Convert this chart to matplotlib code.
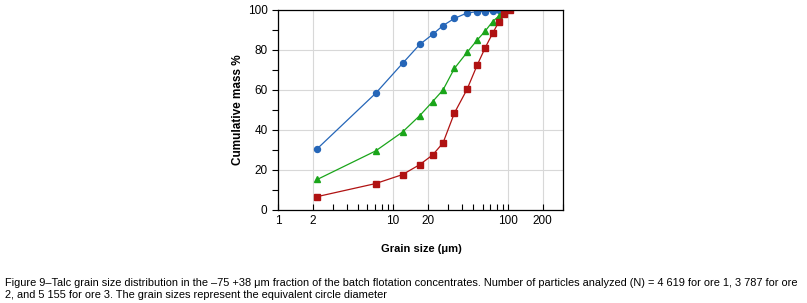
"""Talc grain size distribution, cumulative mass vs grain size."""

import matplotlib
matplotlib.use("Agg")
from matplotlib import pyplot as plt
from matplotlib.ticker import FixedLocator, NullFormatter, MultipleLocator

sizes_all = [2.2, 7.05, 12.1, 17.1, 22.1, 27.2, 34.2, 44, 54, 63.4, 73.4, 83.4, 93, 104]

ore1 = [30.7, 58.3, 73.3, 82.8, 87.8, 92.2, 95.8, 98.5, 99.2, 99.2, 99.3, 100]
ore2 = [15.3, 29.5, 39.0, 47.2, 54.2, 60.0, 70.8, 78.8, 85.0, 89.5, 94.2, 97.0, 100]
ore3 = [6.7, 13.2, 17.7, 22.7, 27.5, 33.5, 48.5, 60.3, 72.5, 81.2, 88.3, 94.2, 98.0, 100]

x_ticks = [1, 2, 10, 20, 100, 200]
x_labels = ["1", "2", "10", "20", "100", "200"]

caption = (
    "Figure 9\u2013Talc grain size distribution in the \u201375 +38 \u03bcm fraction of the batch "
    "flotation concentrates. Number of particles analyzed (N) = 4 619 for ore 1, 3 787 for ore\n"
    "2, and 5 155 for ore 3. The grain sizes represent the equivalent circle diameter"
)

plt.rcParams["font.family"] = ["Liberation Sans", "DejaVu Sans"]

fig = plt.figure(figsize=(8.07, 3.03), dpi=100)
ax = fig.add_axes([0.3445, 0.307, 0.353, 0.660])

ax.plot(sizes_all[:len(ore1)], ore1, color="#2566b8", marker="o", markersize=4.3, linewidth=0.9)
ax.plot(sizes_all[:len(ore2)], ore2, color="#1aa51a", marker="^", markersize=5, linewidth=0.9)
ax.plot(sizes_all[:len(ore3)], ore3, color="#b01212", marker="s", markersize=4.2, linewidth=0.9)

ax.set_xscale("log")
ax.set_xlim(1, 300)
ax.set_ylim(0, 100)
ax.xaxis.set_major_locator(FixedLocator(x_ticks))
ax.set_xticklabels(x_labels, fontsize=8.5)
minor = [v * d for d in (1, 10, 100) for v in range(2, 10) if v * d <= 300]
ax.xaxis.set_minor_locator(FixedLocator(minor))
ax.xaxis.set_minor_formatter(NullFormatter())
ax.yaxis.set_major_locator(MultipleLocator(20))
ax.yaxis.set_minor_locator(MultipleLocator(10))
for lab in ax.get_yticklabels():
    lab.set_fontsize(8.5)

ax.tick_params(axis="x", which="both", direction="in", length=4, width=0.8)
ax.tick_params(axis="y", which="both", direction="out", length=4, width=0.8)
ax.grid(True, which="major", color="#d8d8d8", linewidth=0.8)
for side in ax.spines.values():
    side.set_linewidth(0.9)

ax.set_ylabel("Cumulative mass %", fontsize=8.5, fontweight="bold", labelpad=3)
fig.text(0.522, 0.178, "Grain size (\u03bcm)", ha="center", va="center",
         fontsize=8, fontweight="bold")
fig.text(0.006, 0.046, caption, ha="left", va="center", fontsize=7.9, linespacing=1.3)

fig.savefig("out.png", dpi=100)
